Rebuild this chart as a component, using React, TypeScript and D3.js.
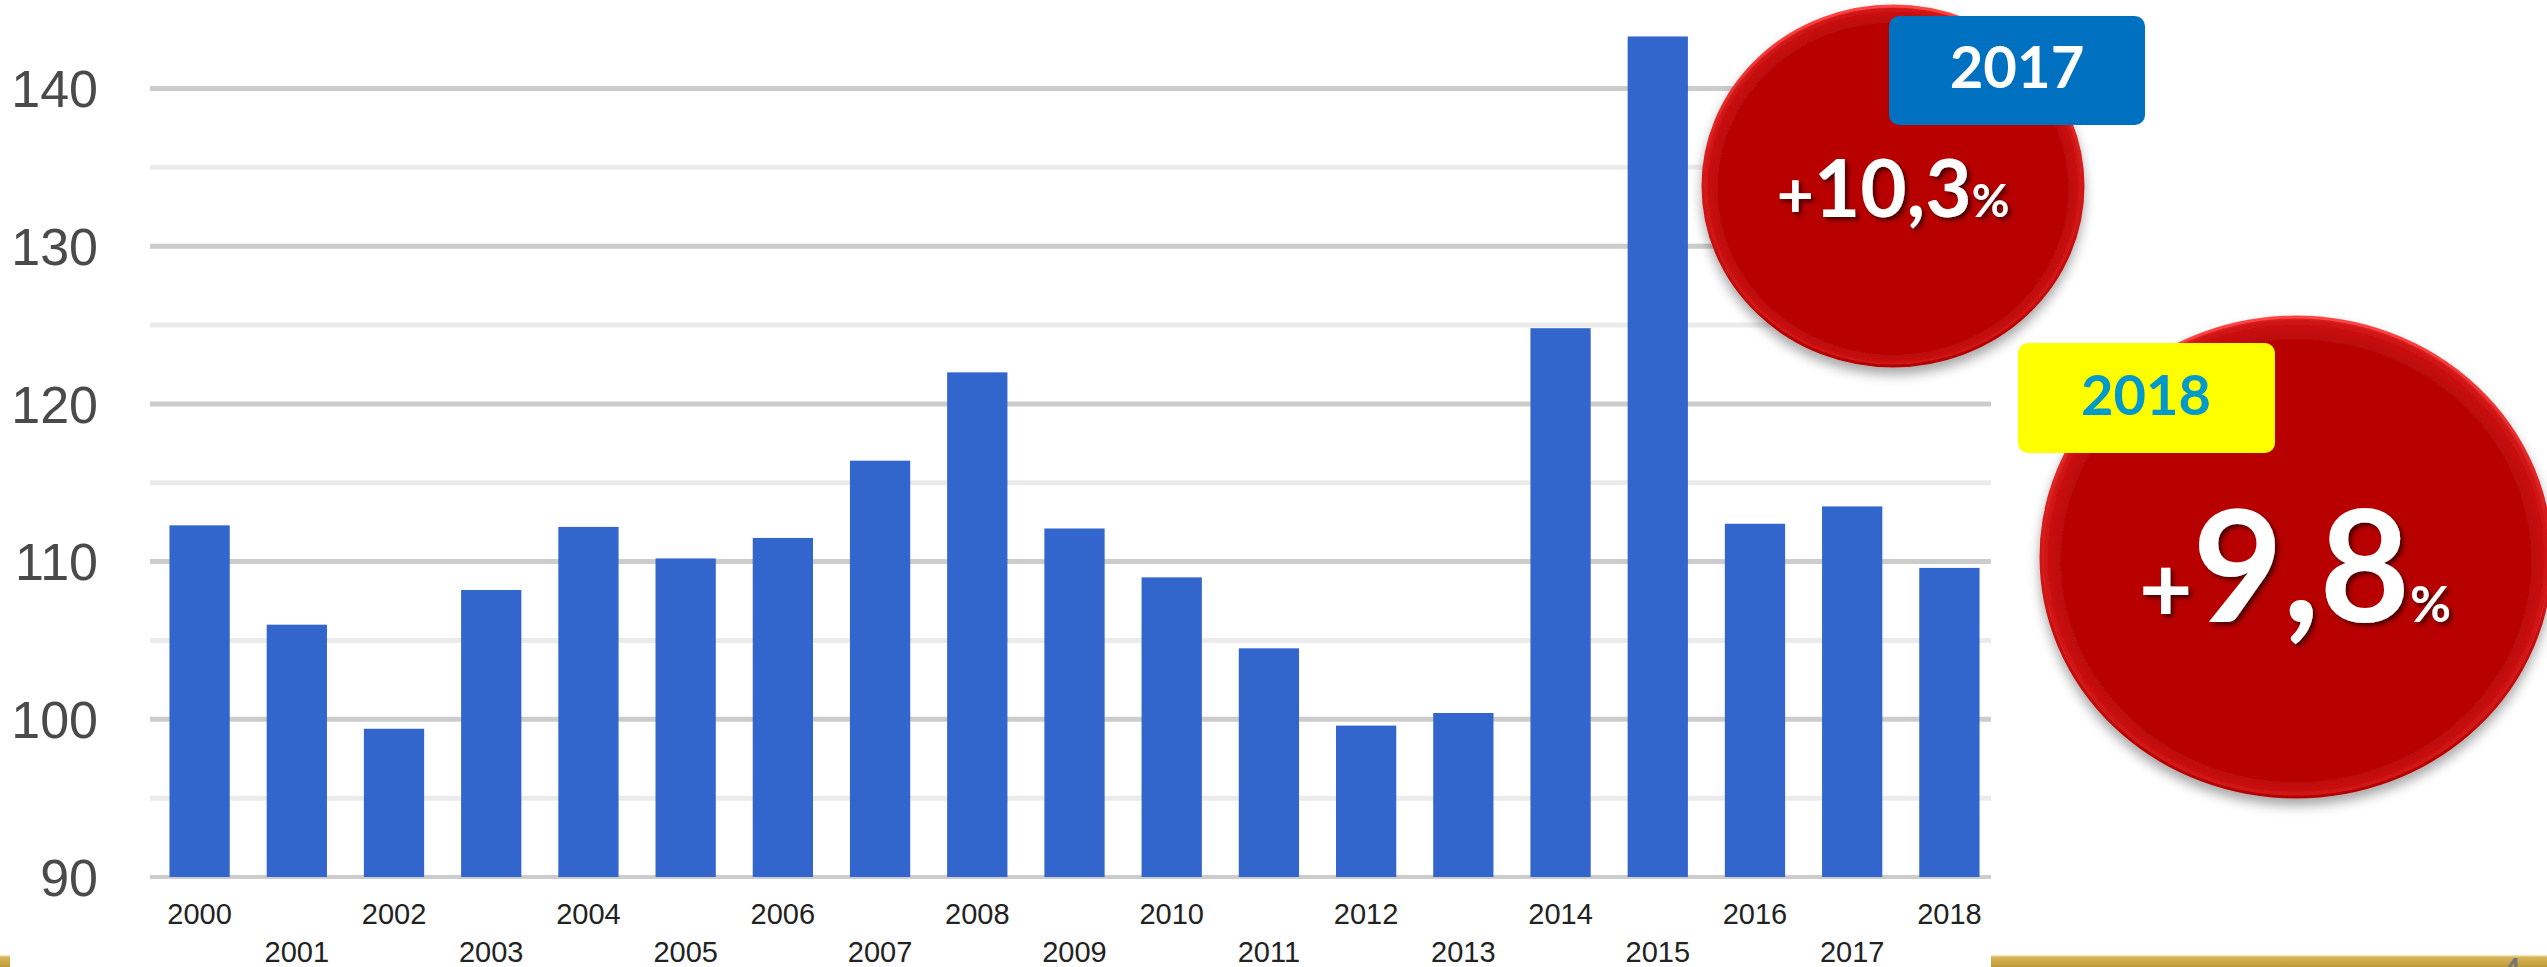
import React from 'react'
import * as d3 from 'd3'

// values
const years = [
  '2000', '2001', '2002', '2003', '2004', '2005', '2006', '2007', '2008', '2009',
  '2010', '2011', '2012', '2013', '2014', '2015', '2016', '2017', '2018',
]
const values = [
  112.3, 106.0, 99.4, 108.2, 112.2, 110.2, 111.5, 116.4, 122.0, 112.1,
  109.0, 104.5, 99.6, 100.4, 124.8, 143.3, 112.4, 113.5, 109.6,
]
const majorTicks = [90, 100, 110, 120, 130, 140]
const minorTicks = [95, 105, 115, 125, 135]

const W = 2547
const H = 967

const App = () => {
  const x = d3
    .scaleBand()
    .domain(years)
    .range([151, 1998])
    .paddingInner(0.38)
    .paddingOuter(0.19)

  const y = d3.scaleLinear().domain([90, 140]).range([877, 88.5])

  const gridLeft = 150
  const gridRight = 1991

  return (
    <svg
      width={W}
      height={H}
      style={{ position: 'absolute', left: 0, top: 0, display: 'block', background: '#fff' }}
    >
      <defs>
        <radialGradient id="ball" cx="0.5" cy="0.5" r="0.5" fx="0.5" fy="0.6">
          <stop offset="0" stopColor="#b80404" />
          <stop offset="0.92" stopColor="#b90606" />
          <stop offset="0.985" stopColor="#cf1414" />
          <stop offset="1" stopColor="#e82828" />
        </radialGradient>
        <linearGradient id="rim" x1="0" y1="0" x2="0" y2="1">
          <stop offset="0" stopColor="#ff4545" />
          <stop offset="0.45" stopColor="#d21a1a" />
          <stop offset="1" stopColor="#b00000" />
        </linearGradient>
        <linearGradient id="gold" x1="0" y1="0" x2="0" y2="1">
          <stop offset="0" stopColor="#fbeec4" />
          <stop offset="0.2" stopColor="#d8b458" />
          <stop offset="1" stopColor="#bf9a38" />
        </linearGradient>
        <filter id="ballShadow" x="-20%" y="-20%" width="140%" height="150%">
          <feDropShadow dx="0" dy="7" stdDeviation="6" floodColor="#000" floodOpacity="0.35" />
        </filter>
        <filter id="txtShadow" x="-20%" y="-20%" width="140%" height="150%">
          <feDropShadow dx="3" dy="3" stdDeviation="2" floodColor="#3a0000" floodOpacity="0.85" />
        </filter>
      </defs>

      {/* gold footer strip */}
      <rect x={0} y={955} width={10} height={12} fill="url(#gold)" />
      <rect x={1991} y={955} width={W - 1991} height={12} fill="url(#gold)" />
      <text x={2500} y={986} fontFamily="Arial, 'Liberation Sans'" fontSize={40} fill="#777">
        4
      </text>

      {/* gridlines */}
      {minorTicks.map((t) => (
        <line key={'m' + t} x1={gridLeft} x2={gridRight} y1={y(t)} y2={y(t)} stroke="#ebebeb" strokeWidth={5} />
      ))}
      {majorTicks.map((t) => (
        <line
          key={'M' + t}
          x1={gridLeft}
          x2={gridRight}
          y1={y(t)}
          y2={y(t)}
          stroke="#cccccc"
          strokeWidth={t === 90 ? 4 : 5}
        />
      ))}

      {/* y labels */}
      {majorTicks.map((t) => (
        <text
          key={'l' + t}
          x={98}
          y={y(t)}
          dy="0.36em"
          textAnchor="end"
          fontFamily="Arial, 'Liberation Sans'"
          fontSize={52}
          fill="#4a4a4a"
        >
          {t}
        </text>
      ))}

      {/* bars */}
      {years.map((yr, i) => (
        <rect
          key={yr}
          x={x(yr)}
          y={y(values[i])}
          width={x.bandwidth()}
          height={y(90) - y(values[i])}
          fill="#3366cc"
        />
      ))}

      {/* x labels, staggered */}
      {years.map((yr, i) => (
        <text
          key={'x' + yr}
          x={(x(yr) as number) + x.bandwidth() / 2}
          y={i % 2 === 0 ? 924 : 962}
          textAnchor="middle"
          fontFamily="Arial, 'Liberation Sans'"
          fontSize={29}
          fill="#222"
        >
          {yr}
        </text>
      ))}

      {/* 2017 badge */}
      <ellipse
        cx={1893}
        cy={186}
        rx={190}
        ry={180}
        fill="url(#ball)"
        stroke="url(#rim)"
        strokeWidth={3}
        filter="url(#ballShadow)"
      />
      <rect x={1889} y={16} width={256} height={109} rx={10} fill="#0070c0" />
      <text
        x={2017}
        y={88}
        textAnchor="middle"
        fontFamily="Lato, 'Open Sans', sans-serif"
        fontWeight={700}
        fontSize={58}
        fill="#fff"
      >
        2017
      </text>
      <text
        x={1893}
        y={217}
        textAnchor="middle"
        fontFamily="Lato, 'Open Sans', sans-serif"
        fontWeight={700}
        fill="#fff"
        filter="url(#txtShadow)"
      >
        <tspan fontSize={64}>+</tspan>
        <tspan fontSize={80}>10,3</tspan>
        <tspan fontSize={46}>%</tspan>
      </text>

      {/* 2018 badge */}
      <ellipse
        cx={2296}
        cy={557}
        rx={255}
        ry={240}
        fill="url(#ball)"
        stroke="url(#rim)"
        strokeWidth={3}
        filter="url(#ballShadow)"
      />
      <rect x={2018} y={343} width={257} height={110} rx={10} fill="#ffff00" />
      <text
        x={2146}
        y={415}
        textAnchor="middle"
        fontFamily="Lato, 'Open Sans', sans-serif"
        fontWeight={700}
        fontSize={56}
        fill="#0099cc"
      >
        2018
      </text>
      <text
        x={2295}
        y={622}
        textAnchor="middle"
        fontFamily="Lato, 'Open Sans', sans-serif"
        fontWeight={700}
        fill="#fff"
        filter="url(#txtShadow)"
      >
        <tspan fontSize={92}>+</tspan>
        <tspan fontSize={156}>9,8</tspan>
        <tspan fontSize={50}>%</tspan>
      </text>
    </svg>
  )
}

export default App
